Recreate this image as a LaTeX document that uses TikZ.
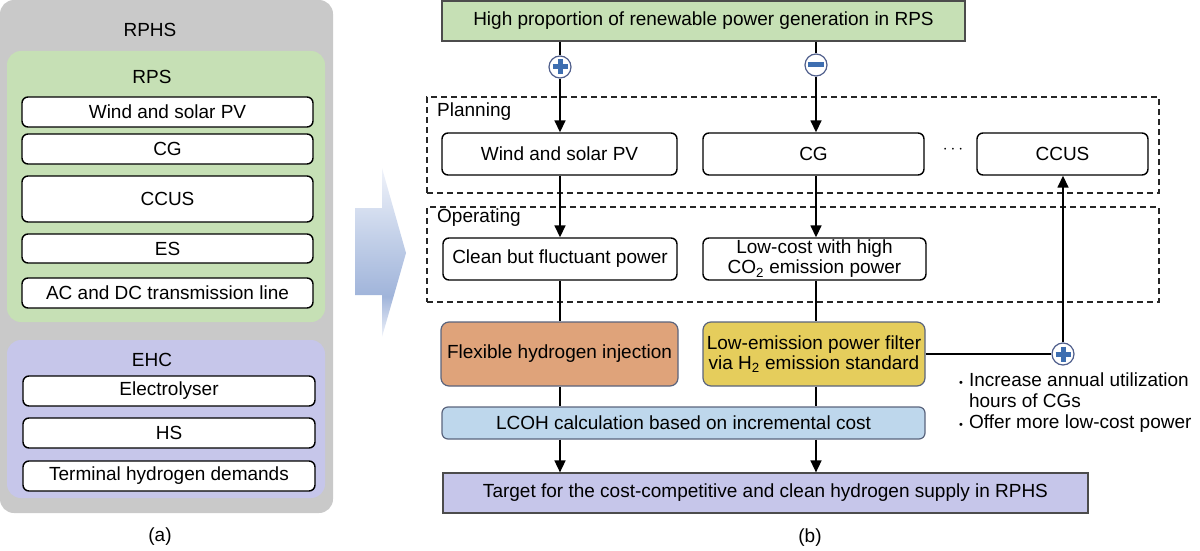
\documentclass[tikz,border=0pt]{standalone}
\usepackage{fontspec}
\setmainfont{Liberation Sans}
\usetikzlibrary{arrows.meta,calc}
\definecolor{panelgray}{RGB}{201,201,201}
\definecolor{rpsgreen}{RGB}{198,224,181}
\definecolor{ehcpurple}{RGB}{198,198,234}
\definecolor{flexorange}{RGB}{223,163,122}
\definecolor{filteryellow}{RGB}{229,205,92}
\definecolor{lcohblue}{RGB}{190,215,236}
\definecolor{signblue}{RGB}{62,110,176}
\definecolor{signborder}{RGB}{80,95,140}
\definecolor{boxborder}{RGB}{90,100,125}
\definecolor{arLight}{RGB}{240,243,250}
\definecolor{arDark}{RGB}{160,180,218}
\definecolor{arMid}{RGB}{196,209,233}
\pgfdeclareverticalshading{bigarrowshade}{100bp}{color(0bp)=(arLight); color(25bp)=(arLight); color(37bp)=(arDark); color(55bp)=(arMid); color(75bp)=(arLight); color(100bp)=(arLight)}
\newcommand\fsz{\fontsize{19}{20}\selectfont}
\begin{document}
\begin{tikzpicture}[x=1pt,y=-1pt,
  panel/.style={rounded corners=14pt, draw=none, inner sep=0pt},
  wbox/.style={draw=black, line width=1.4pt, rounded corners=6pt, fill=white, inner sep=0pt, align=center, font=\fsz},
  cbox/.style={draw=boxborder, line width=1.2pt, rounded corners=8pt, inner sep=0pt, align=center, font=\fsz},
  sbox/.style={draw=black!70, line width=1.2pt, inner sep=0pt, align=center, font=\fsz},
  lbl/.style={inner sep=0pt, font=\fsz},
  dashbox/.style={draw=black!85, line width=1.1pt, dash pattern=on 6pt off 4pt, inner sep=0pt},
  ln/.style={line width=1.6pt},
  arr/.style={line width=1.6pt, -{Triangle[width=11pt,length=12pt]}},
  sign/.style={circle, draw=signborder, line width=1.2pt, fill=white, minimum size=22pt, inner sep=0pt},
  signmark/.style={signblue, line width=5pt}
]
\useasboundingbox (0,0) rectangle (1200,551);

% ---------- panel (a) ----------
\node[panel, fill=panelgray, minimum width=333pt, minimum height=513pt] (rphs) at (166.5,256.5) {};
\node[lbl] (rphslbl) at (150,30) {RPHS};
\node[panel, fill=rpsgreen, minimum width=318pt, minimum height=271pt] (rps) at (166,186.5) {};
\node[lbl] (rpslbl) at (152,77) {RPS};
\node[wbox, minimum width=291pt, minimum height=30pt] (a1) at (167.5,112) {Wind and solar PV};
\node[wbox, minimum width=291pt, minimum height=30pt] (a2) at (167.5,149) {CG};
\node[wbox, minimum width=291pt, minimum height=46pt] (a3) at (167.5,199) {CCUS};
\node[wbox, minimum width=291pt, minimum height=29pt] (a4) at (167.5,248.5) {ES};
\node[wbox, minimum width=291pt, minimum height=30pt] (a5) at (167.5,293) {AC and DC transmission line};
\node[panel, fill=ehcpurple, minimum width=318pt, minimum height=158pt] (ehc) at (166,419) {};
\node[lbl] (ehclbl) at (152,360) {EHC};
\node[wbox, minimum width=292pt, minimum height=30pt] (e1) at (169,391) {Electrolyser};
\node[wbox, minimum width=292pt, minimum height=30pt] (e2) at (169,433) {HS};
\node[wbox, minimum width=292pt, minimum height=30pt] (e3) at (169,476) {Terminal hydrogen demands};
\node[lbl] (alab) at (160,537) {(a)};

% ---------- big arrow ----------
\shade[shading=bigarrowshade]
  (355,208) -- (382,208) -- (382,168) -- (406,253) -- (382,337) -- (382,295) -- (355,295) -- cycle;

% ---------- panel (b) ----------
\coordinate (c1) at (560,0);
\coordinate (c2) at (816,0);

\node[dashbox, minimum width=732pt, minimum height=96pt] (plan) at (793,145) {};
\node[dashbox, minimum width=732pt, minimum height=95pt] (oper) at (793,254.5) {};
\node[lbl, anchor=west] (planlbl) at (437,112) {Planning};
\node[lbl, anchor=west] (operlbl) at (437,218) {Operating};

\node[sbox, fill=rpsgreen, minimum width=523pt, minimum height=40pt] (top) at (703.5,21) {High proportion of renewable power generation in RPS};

\node[wbox, minimum width=235pt, minimum height=42pt] (wsp) at (559.5,154) {Wind and solar PV};
\node[wbox, minimum width=221pt, minimum height=42pt] (cg) at (813.5,154) {CG};
\node[lbl] (dots) at (953,150) {$\cdots$};
\node[wbox, minimum width=171pt, minimum height=42pt] (ccus) at (1062.5,154) {CCUS};

\node[wbox, minimum width=234pt, minimum height=42pt] (clean) at (560,259) {Clean but fluctuant power};
\node[wbox, minimum width=223pt, minimum height=42pt] (lowc) at (814.5,259) {Low-cost with high\\CO\textsubscript{2} emission power};

\node[cbox, fill=flexorange, minimum width=237pt, minimum height=64pt] (flex) at (559.5,354) {Flexible hydrogen injection};
\node[cbox, fill=filteryellow, minimum width=222pt, minimum height=64pt] (filt) at (814,354) {Low-emission power filter\\via H\textsubscript{2} emission standard};
\node[cbox, fill=lcohblue, minimum width=483pt, minimum height=32pt, rounded corners=6pt] (lcoh) at (683.5,423) {LCOH calculation based on incremental cost};
\node[sbox, fill=ehcpurple, minimum width=645pt, minimum height=40pt] (target) at (765.5,493) {Target for the cost-competitive and clean hydrogen supply in RPHS};
\node[lbl] (blab) at (810,538) {(b)};

\node[inner sep=0pt, anchor=north west, align=left, font={\fontsize{19}{21}\selectfont}] (bul) at (959,372) {%
  \begin{tabular}{@{}l@{\hspace{6pt}}l@{}}
  {\fontsize{11}{11}\selectfont\textbullet} & Increase annual utilization\\
   & hours of CGs\\
  {\fontsize{11}{11}\selectfont\textbullet} & Offer more low-cost power
  \end{tabular}};

% signs
\node[sign] (p1) at (560,67) {};
\node[sign] (m1) at (816,65) {};
\node[sign] (p2) at (1063,354) {};
\draw[signmark] ($(p1)+(-7.5,0)$) -- ($(p1)+(7.5,0)$);
\draw[signmark] ($(p1)+(0,-7.5)$) -- ($(p1)+(0,7.5)$);
\draw[signmark] ($(p2)+(-7.5,0)$) -- ($(p2)+(7.5,0)$);
\draw[signmark] ($(p2)+(0,-7.5)$) -- ($(p2)+(0,7.5)$);
\draw[signmark] ($(m1)+(-8,0)$) -- ($(m1)+(8,0)$);

% connectors column 1
\draw[ln] (top.south -| c1) -- (p1);
\draw[arr] (p1) -- (wsp.north -| c1);
\draw[arr] (wsp.south -| c1) -- (clean.north -| c1);
\draw[ln] (clean.south -| c1) -- (flex.north -| c1);
\draw[ln] (flex.south -| c1) -- (lcoh.north -| c1);
\draw[arr] (lcoh.south -| c1) -- (target.north -| c1);
% connectors column 2
\draw[ln] (top.south -| c2) -- (m1);
\draw[arr] (m1) -- (cg.north -| c2);
\draw[arr] (cg.south -| c2) -- (lowc.north -| c2);
\draw[ln] (lowc.south -| c2) -- (filt.north -| c2);
\draw[ln] (filt.south -| c2) -- (lcoh.north -| c2);
\draw[arr] (lcoh.south -| c2) -- (target.north -| c2);
% feedback
\draw[ln] (filt.east) -- (p2);
\draw[arr] (p2) -- (ccus.south -| p2);
\end{tikzpicture}
\end{document}
